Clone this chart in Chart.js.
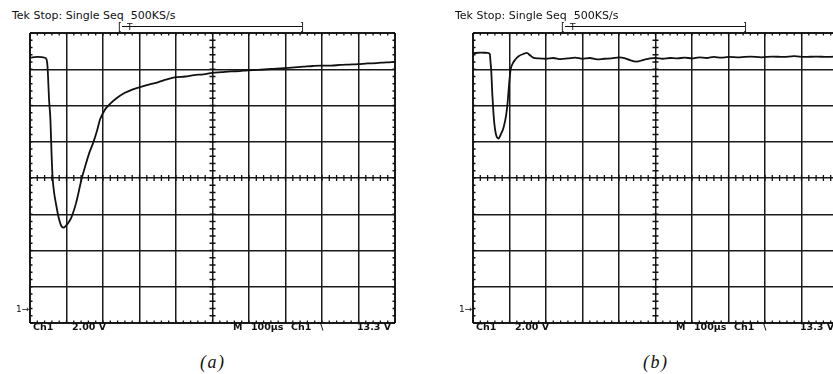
<!DOCTYPE html>
<html>
<head>
<meta charset="utf-8">
<script src="https://cdn.jsdelivr.net/npm/chart.js@4.4.1/dist/chart.umd.min.js"></script>
<style>
  html, body { margin: 0; padding: 0; background: #fff; }
  body { width: 833px; height: 374px; overflow: hidden; position: relative; }
  .panel { position: absolute; top: 0; width: 420px; height: 374px; }
  .panel canvas { position: absolute; left: 26px; top: 29px; }
  .lbl { position: absolute; font-family: "DejaVu Sans", sans-serif; color: #111; line-height: 1; white-space: pre; }
  .title { font-size: 11px; left: 12px; top: 10px; }
  .bot { font-size: 9.5px; font-weight: bold; top: 322px; }
  .brk { font-size: 10px; top: 22px; }
  .line { position: absolute; left: 122px; top: 26px; width: 180px; border-top: 1.4px solid #111; }
  .gnd { font-size: 9px; left: 16px; top: 305px; }
  .cap { position: absolute; font-family: "Liberation Serif", serif; font-style: italic; font-size: 18px;
         line-height: 1; top: 353px; left: 200px; letter-spacing: 1.5px; color: #111; }
</style>
</head>
<body>
<div class="panel" style="left:0">
  <canvas id="scopeA" width="373" height="298"></canvas>
  <div class="lbl title">Tek Stop: Single Seq  500KS/s</div>
  <div class="lbl brk" style="left:118px">[</div>
  <div class="lbl brk" style="left:127px;font-size:9px;top:23px">T</div>
  <div class="line"></div>
  <div class="lbl brk" style="left:300px">]</div>
  <div class="lbl gnd">1→</div>
  <div class="lbl bot" style="left:33px">Ch1</div>
  <div class="lbl bot" style="left:72px">2.00 V</div>
  <div class="lbl bot" style="left:233px">M</div>
  <div class="lbl bot" style="left:251px">100µs</div>
  <div class="lbl bot" style="left:291px">Ch1</div>
  <div class="lbl bot" style="left:320px">\</div>
  <div class="lbl bot" style="left:357px">13.3 V</div>
  <div class="cap">(a)</div>
</div>
<div class="panel" style="left:443px">
  <canvas id="scopeB" width="373" height="298"></canvas>
  <div class="lbl title">Tek Stop: Single Seq  500KS/s</div>
  <div class="lbl brk" style="left:118px">[</div>
  <div class="lbl brk" style="left:127px;font-size:9px;top:23px">T</div>
  <div class="line"></div>
  <div class="lbl brk" style="left:300px">]</div>
  <div class="lbl gnd">1→</div>
  <div class="lbl bot" style="left:33px">Ch1</div>
  <div class="lbl bot" style="left:72px">2.00 V</div>
  <div class="lbl bot" style="left:233px">M</div>
  <div class="lbl bot" style="left:251px">100µs</div>
  <div class="lbl bot" style="left:291px">Ch1</div>
  <div class="lbl bot" style="left:320px">\</div>
  <div class="lbl bot" style="left:357px">13.3 V</div>
  <div class="cap">(b)</div>
</div>
<script>
// time in µs (100 µs/div), level in screen divisions above the bottom of the graticule
const timeA = [0, 20, 35, 44, 47, 49, 52, 56, 59, 62, 66, 71, 78, 84, 87, 92, 98, 106, 114, 126,
  142, 152, 162, 173, 184, 192, 205, 220, 237, 260, 280, 299, 320, 350, 375, 399, 425, 450, 475, 499,
  525, 550, 575, 597, 625, 650, 675, 696, 725, 750, 775, 797, 825, 850, 875, 898, 925, 950, 975, 1000];
const levelA = [7.32, 7.34, 7.33, 7.3, 7.18, 6.9, 6.2, 5.6, 4.68, 4.0, 3.6, 3.3, 2.93, 2.72, 2.66, 2.63, 2.68, 2.78, 2.93, 3.3,
  4.0, 4.35, 4.68, 4.97, 5.32, 5.62, 5.88, 6.05, 6.2, 6.35, 6.44, 6.5, 6.56, 6.64, 6.72, 6.78, 6.8, 6.84, 6.86, 6.9,
  6.92, 6.94, 6.95, 6.97, 6.98, 7.0, 7.02, 7.03, 7.05, 7.07, 7.09, 7.1, 7.1, 7.12, 7.13, 7.14, 7.16, 7.17, 7.19, 7.2];

const timeB = [0, 20, 40, 46, 48, 50, 53, 56, 59, 63, 70, 76, 84, 91, 95, 99, 103, 110, 116, 125,
  140, 147, 157, 165, 180, 200, 220, 240, 260, 280, 300, 320, 340, 360, 380, 400, 415, 430, 448, 465,
  485, 500, 520, 540, 560, 580, 600, 620, 640, 660, 680, 700, 730, 760, 790, 820, 850, 880, 910, 940, 970, 1000];
const levelB = [7.44, 7.46, 7.45, 7.42, 7.2, 6.95, 6.3, 5.8, 5.45, 5.2, 5.09, 5.2, 5.4, 5.75, 6.1, 6.6, 6.98, 7.18, 7.27, 7.36,
  7.43, 7.45, 7.38, 7.32, 7.3, 7.29, 7.31, 7.28, 7.3, 7.32, 7.29, 7.31, 7.27, 7.29, 7.3, 7.33, 7.31, 7.25, 7.21, 7.25,
  7.3, 7.31, 7.29, 7.31, 7.3, 7.32, 7.3, 7.33, 7.31, 7.34, 7.32, 7.34, 7.33, 7.35, 7.33, 7.35, 7.34, 7.36, 7.34, 7.35, 7.34, 7.35];

const X_MAX = 1000, Y_MAX = 8;

// small graticule marks: crosses on the centre lines, dots along the frame
const graticule = {
  id: 'graticule',
  beforeDatasetsDraw(chart) {
    const { ctx, scales: { x, y } } = chart;
    const xc = x.getPixelForValue(X_MAX / 2), yc = y.getPixelForValue(Y_MAX / 2);
    ctx.save();
    ctx.strokeStyle = '#111';
    ctx.lineWidth = 1.3;
    ctx.beginPath();
    for (let i = 0; i <= 50; i++) {
      const px = x.getPixelForValue(i * 20);
      ctx.moveTo(px, yc - 3); ctx.lineTo(px, yc + 3);
      ctx.moveTo(px, y.top); ctx.lineTo(px, y.top + 2.5);
      ctx.moveTo(px, y.bottom); ctx.lineTo(px, y.bottom - 2.5);
    }
    for (let i = 0; i <= 40; i++) {
      const py = y.getPixelForValue(i / 5);
      ctx.moveTo(xc - 3, py); ctx.lineTo(xc + 3, py);
      ctx.moveTo(x.left, py); ctx.lineTo(x.left + 2.5, py);
      ctx.moveTo(x.right, py); ctx.lineTo(x.right - 2.5, py);
    }
    ctx.stroke();
    ctx.restore();
  }
};

function scope(id, time, level) {
  return new Chart(document.getElementById(id), {
    type: 'line',
    data: {
      datasets: [{
        data: time.map((t, i) => ({ x: t, y: level[i] })),
        borderColor: '#111', borderWidth: 1.8, pointRadius: 0,
        cubicInterpolationMode: 'monotone'
      }]
    },
    options: {
      responsive: false, animation: false, devicePixelRatio: 1,
      layout: { padding: 4 },
      plugins: { legend: { display: false }, tooltip: { enabled: false } },
      scales: {
        x: {
          type: 'linear', min: 0, max: X_MAX,
          ticks: { display: false, stepSize: 100 },
          grid: { color: '#1a1a1a', drawTicks: false, lineWidth: c => (c.tick.value === 0 || c.tick.value === X_MAX) ? 2 : 1.5 },
          border: { display: false }
        },
        y: {
          min: 0, max: Y_MAX,
          ticks: { display: false, stepSize: 1 },
          grid: { color: '#1a1a1a', drawTicks: false, lineWidth: c => (c.tick.value === 0 || c.tick.value === Y_MAX) ? 2 : 1.5 },
          border: { display: false }
        }
      }
    },
    plugins: [graticule]
  });
}

scope('scopeA', timeA, levelA);
scope('scopeB', timeB, levelB);
</script>
</body>
</html>
